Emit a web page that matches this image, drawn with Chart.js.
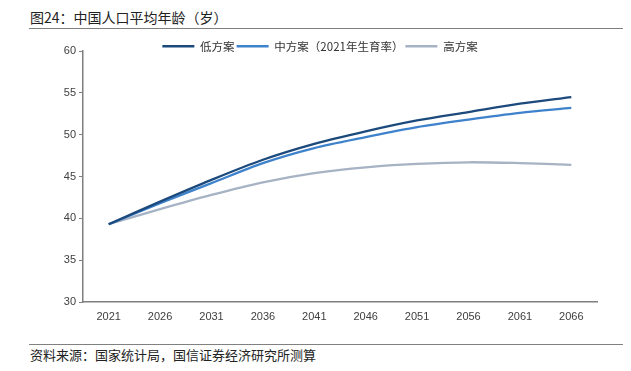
<!DOCTYPE html>
<html>
<head>
<meta charset="utf-8">
<script src="https://cdn.jsdelivr.net/npm/chart.js@4"></script>
<style>
  body { margin: 0; background: #fff; width: 631px; height: 371px; position: relative; overflow: hidden;
         font-family: "Noto Sans CJK SC", "Liberation Sans", sans-serif; color: #222; }
  #title { position: absolute; left: 30px; top: 7px; font-size: 14px; line-height: 20px; }
  #src { position: absolute; left: 30px; top: 346px; font-size: 13px; line-height: 18px; }
  .rule { position: absolute; left: 29px; width: 594px; height: 0; border-top: 1.5px solid #808080; }
  #wrap { position: absolute; left: 0; top: 25px; width: 631px; height: 307px; }
</style>
</head>
<body>
<div id="title">图24：中国人口平均年龄（岁）</div>
<div class="rule" style="top:28px"></div>
<div id="wrap"><canvas id="age-chart"></canvas></div>
<div class="rule" style="top:344px"></div>
<div id="src">资料来源：国家统计局，国信证券经济研究所测算</div>
<script>
var years = ['2021', '2026', '2031', '2036', '2041', '2046', '2051', '2056', '2061', '2066'];
var lowPlan = [39.3, 42.0, 44.6, 47.0, 48.9, 50.4, 51.7, 52.7, 53.7, 54.5];
var midPlan = [39.3, 41.8, 44.2, 46.6, 48.4, 49.7, 50.9, 51.8, 52.6, 53.2];
var highPlan = [39.3, 41.1, 42.8, 44.3, 45.4, 46.1, 46.5, 46.7, 46.6, 46.4];
var seriesNames = ['低方案', '中方案（2021年生育率）', '高方案'];
var seriesColors = ['#1c4a7c', '#3f82cc', '#a6b3c4'];

// move the legend down so it sits just above the plot, as in the source figure
var legendShift = {
  id: 'legendShift',
  afterLayout: function (chart) {
    chart.legend.top += 11;
    chart.legend.bottom += 11;
  }
};

document.addEventListener('DOMContentLoaded', function () {
  var ctx = document.getElementById('age-chart').getContext('2d');
  var all = [lowPlan, midPlan, highPlan];
  var datasets = all.map(function (vals, i) {
    return {
      label: seriesNames[i],
      data: vals,
      borderColor: seriesColors[i],
      backgroundColor: seriesColors[i],
      borderWidth: 2.3,
      pointRadius: 0,
      tension: 0.3
    };
  });

  new Chart(ctx, {
    type: 'line',
    data: { labels: years, datasets: datasets },
    plugins: [legendShift],
    options: {
      responsive: true,
      maintainAspectRatio: false,
      animation: false,
      layout: { padding: { left: 43, right: 34, top: 2.5, bottom: 0 } },
      plugins: {
        tooltip: { enabled: false },
        legend: {
          position: 'top',
          labels: {
            boxWidth: 32,
            boxHeight: 0,
            padding: 2,
            color: '#333',
            font: { size: 11.5, family: '"Noto Sans CJK SC", sans-serif' }
          }
        }
      },
      scales: {
        x: {
          offset: true,
          grid: { drawOnChartArea: false, drawTicks: true, tickLength: 5, color: 'transparent' },
          border: { color: '#7f7f7f', width: 1.5 },
          ticks: { color: '#404040', padding: 3, maxRotation: 0, font: { size: 11, family: 'Liberation Sans' } },
          afterFit: function (s) { s.height = 30; }
        },
        y: {
          min: 30,
          max: 60,
          ticks: { stepSize: 5, color: '#404040', padding: 3, font: { size: 11, family: 'Liberation Sans' } },
          grid: { drawOnChartArea: false, drawTicks: true, tickLength: 4, color: '#7f7f7f' },
          border: { color: '#7f7f7f', width: 1.5 },
          afterFit: function (s) { s.width = 40; }
        }
      }
    }
  });
});
</script>
</body>
</html>
